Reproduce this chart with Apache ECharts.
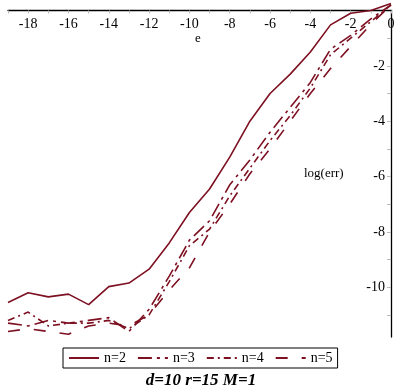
<!DOCTYPE html>
<html><head><meta charset="utf-8">
<script src="https://cdn.jsdelivr.net/npm/echarts@6/dist/echarts.min.js"></script>
<style>html,body{margin:0;padding:0;background:#fff}#c{width:407px;height:392px}</style>
</head><body><div id="c"></div>
<script>
const xs = [-19,-18,-17,-16,-15,-14,-13,-12,-11,-10,-9,-8,-7,-6,-5,-4,-3,-2,-1,0];
const n2 = [-10.55,-10.2,-10.35,-10.25,-10.63,-9.98,-9.85,-9.35,-8.4,-7.3,-6.45,-5.3,-4.0,-3.0,-2.3,-1.5,-0.52,-0.1,0.0,0.25];
const n3 = [-11.3,-11.4,-11.2,-11.3,-11.2,-11.1,-11.6,-10.8,-9.6,-8.3,-7.6,-6.3,-5.4,-4.4,-3.5,-2.6,-1.4,-0.9,-0.3,0.2];
const n4 = [-11.2,-10.9,-11.4,-11.3,-11.3,-11.2,-11.5,-11.0,-9.8,-8.5,-7.9,-6.7,-5.7,-4.7,-3.8,-2.8,-1.6,-1.0,-0.4,0.2];
const n5 = [-11.6,-11.5,-11.6,-11.7,-11.4,-11.3,-11.4,-11.0,-10.1,-9.3,-8.0,-7.0,-5.9,-5.0,-4.0,-3.0,-2.1,-1.3,-0.5,0.2];
const xLabels = [-18,-16,-14,-12,-10,-8,-6,-4,-2,0];
const xTicks = xs;
const yLabels = [-10,-8,-6,-4,-2];
const yTicks = [-11,-10,-9,-8,-7,-6,-5,-4,-3,-2,-1];
const names = ['n=2','n=3','n=4','n=5'];
const color = '#7d1021';
const font = 'Liberation Serif, Times New Roman, serif';
const dashes = ['solid',[14,5,3,5],[7,4,2,4],[12,14]];
const seriesData = [n2,n3,n4,n5];

const chart = echarts.init(document.getElementById('c'), null, {renderer:'canvas'});
chart.setOption({
  animation:false,
  grid:{left:8,right:16,top:10.5,height:326.5},
  xAxis:{type:'value',min:-19,max:0,position:'top',
    axisLine:{onZero:false,lineStyle:{color:'#000',width:1.3}},
    axisTick:{customValues:xTicks,inside:true,length:3,lineStyle:{color:'#bbb'}},
    axisLabel:{customValues:xLabels,inside:true,color:'#000',fontFamily:font,fontSize:14,margin:7,showMaxLabel:true,showMinLabel:true},
    splitLine:{show:false}},
  yAxis:{type:'value',min:-11.8,max:0,position:'right',
    axisLine:{onZero:false,lineStyle:{color:'#000',width:1.3}},
    axisTick:{customValues:yTicks,inside:true,length:4,lineStyle:{color:'#bbb'}},
    axisLabel:{customValues:yLabels,inside:true,color:'#000',fontFamily:font,fontSize:14,margin:6},
    splitLine:{show:false}},
  legend:{left:63,top:348,itemWidth:30,itemHeight:10,itemGap:11,padding:[3,5,3,5],
    borderColor:'#000',borderWidth:1,
    itemStyle:{opacity:0},
    textStyle:{color:'#000',fontFamily:font,fontSize:14},
    data:names},
  title:{text:'d=10 r=15 M=1',left:196,textAlign:'center',top:367,
    textStyle:{fontFamily:font,fontStyle:'italic',fontWeight:'bold',fontSize:17,color:'#000'}},
  graphic:[
    {type:'text',left:195,top:32,style:{text:'e',fill:'#000',font:'13px '+font}},
    {type:'text',left:304,top:167,style:{text:'log(err)',fill:'#000',font:'13px '+font}}
  ],
  series: names.map((nm,i)=>({
    name:nm,type:'line',symbol:'none',clip:false,
    data: xs.map((x,j)=>[x,seriesData[i][j]]),
    lineStyle:{color:color,width:1.6,type:dashes[i]},
    itemStyle:{color:color}
  }))
});
</script></body></html>
